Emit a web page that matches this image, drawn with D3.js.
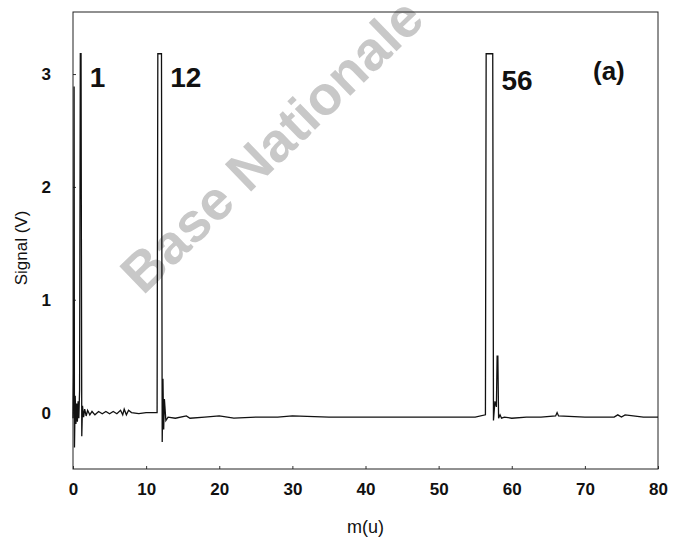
<!DOCTYPE html>
<html>
<head>
<meta charset="utf-8">
<script src="https://cdn.jsdelivr.net/npm/d3@7"></script>
<style>
  body { margin: 0; background: #fff; }
  text { font-family: "Liberation Sans", Arial, sans-serif; }
</style>
</head>
<body>
<div id="graph"></div>
<script>
// mass axis (u) and detector signal (V)
const massU = [
    0.0, 0.08, 0.15, 0.2, 0.3, 0.4, 0.5, 0.6, 0.7, 0.8, 0.9, 1.0, 1.1, 1.2, 1.3, 1.45, 1.6, 1.8, 2.0, 2.3,
    2.6, 3.0, 3.5, 4.0, 4.5, 5.0, 5.5, 6.0, 6.5, 6.8, 7.0, 7.3, 7.6, 8.0, 9.0, 10.0, 11.5, 11.6, 12.1, 12.2,
    12.3, 12.4, 12.5, 12.7, 13.0, 14.0, 15.5, 16.0, 18.0, 20.0, 22.0, 25.0, 28.0, 30.0, 35.0, 40.0, 45.0, 50.0, 55.0, 56.4,
    56.5, 57.4, 57.5, 57.7, 57.9, 58.0, 58.1, 58.2, 58.4, 58.6, 59.0, 60.0, 62.0, 64.0, 66.0, 66.2, 66.4, 70.0, 72.0, 74.0,
    74.5, 75.0, 75.5, 78.0, 80.0
];
const signalV = [
    -0.05, 0.35, 2.89, -0.31, 0.15, -0.1, 0.08, -0.08, 0.1, -0.05, 0.2, 3.18, 3.18, -0.21, 0.06, -0.04, 0.03, -0.03, 0.02, -0.02,
    0.01, -0.02, 0.01, -0.01, 0.01, -0.01, 0.01, -0.01, 0.02, -0.02, 0.03, -0.02, 0.02, 0.0, -0.01, 0.0, 0.0, 3.18, 3.18, -0.26,
    0.3, -0.15, 0.12, -0.07, -0.04, -0.05, -0.03, -0.05, -0.04, -0.03, -0.05, -0.04, -0.04, -0.03, -0.04, -0.04, -0.04, -0.04, -0.04, -0.02,
    3.18, 3.18, -0.07, 0.1, 0.05, 0.5, 0.5, -0.05, -0.02, -0.05, -0.04, -0.05, -0.04, -0.04, -0.03, 0.0, -0.03, -0.04, -0.04, -0.04,
    -0.02, -0.04, -0.02, -0.04, -0.04
];

const xTicks = [0, 10, 20, 30, 40, 50, 60, 70, 80];
const yTicks = [0, 1, 2, 3];
const peakLabels = ['1', '12', '56'];
const peakEnds = [1.2, 12.2, 57.5];

const width = 673;
const height = 541;
const margin = { top: 12, right: 15, bottom: 72, left: 73 };

const xScale = d3.scaleLinear()
    .domain([0, 80])
    .range([margin.left, width - margin.right]);

const yScale = d3.scaleLinear()
    .domain([-0.5, 3.55])
    .range([height - margin.bottom, margin.top]);

const svg = d3.select('#graph')
    .append('svg')
    .attr('width', width)
    .attr('height', height);

// watermark sits behind the trace (runs off the top like the scan)
svg.append('text')
    .attr('transform', 'translate(143,296) rotate(-44)')
    .attr('font-family', '"DejaVu Sans", sans-serif')
    .attr('font-size', 55)
    .attr('font-weight', 'bold')
    .attr('fill', '#c8c8c8')
    .text('Base Nationale');

const xAxis = svg.append('g')
    .attr('transform', `translate(0, ${height - margin.bottom})`)
    .call(d3.axisBottom(xScale).tickValues(xTicks).tickSizeInner(-3).tickSizeOuter(0).tickPadding(14));

const yAxis = svg.append('g')
    .attr('transform', `translate(${margin.left}, 0)`)
    .call(d3.axisLeft(yScale).tickValues(yTicks).tickFormat(d3.format('d'))
        .tickSizeInner(-3).tickSizeOuter(0).tickPadding(22));

[xAxis, yAxis].forEach(ax => {
    ax.select('.domain').remove();
    ax.selectAll('text')
        .attr('font-family', '"Liberation Sans", Arial, sans-serif')
        .attr('font-size', 17)
        .attr('font-weight', 'bold')
        .attr('fill', '#111');
    ax.selectAll('line').attr('stroke', '#333');
});

// plot frame
svg.append('rect')
    .attr('x', xScale(0))
    .attr('y', yScale(3.55))
    .attr('width', xScale(80) - xScale(0))
    .attr('height', yScale(-0.5) - yScale(3.55))
    .attr('fill', 'none')
    .attr('stroke', '#222')
    .attr('stroke-width', 1);

const line = d3.line()
    .x((d, i) => xScale(massU[i]))
    .y(d => yScale(d));

svg.append('path')
    .datum(signalV)
    .attr('d', line)
    .attr('fill', 'none')
    .attr('stroke', '#111')
    .attr('stroke-width', 1.3);

svg.selectAll('.peak')
    .data(peakLabels)
    .enter()
    .append('text')
        .attr('class', 'peak')
        .attr('x', (d, i) => xScale(peakEnds[i]) + 8)
        .attr('y', (d, i) => i == 2 ? 90 : 87)
        .attr('font-size', 28)
        .attr('font-weight', 'bold')
        .attr('fill', '#111')
        .text(d => d);

svg.append('text')
    .attr('x', 593)
    .attr('y', 80)
    .attr('font-size', 26)
    .attr('font-weight', 'bold')
    .attr('fill', '#111')
    .text('(a)');

svg.append('text')
    .attr('transform', 'translate(27, 248) rotate(-90)')
    .attr('text-anchor', 'middle')
    .attr('font-size', 17)
    .attr('fill', '#111')
    .text('Signal (V)');

svg.append('text')
    .attr('x', (xScale(0) + xScale(80)) / 2)
    .attr('y', 533)
    .attr('text-anchor', 'middle')
    .attr('font-size', 18)
    .attr('fill', '#111')
    .text('m(u)');
</script>
</body>
</html>
